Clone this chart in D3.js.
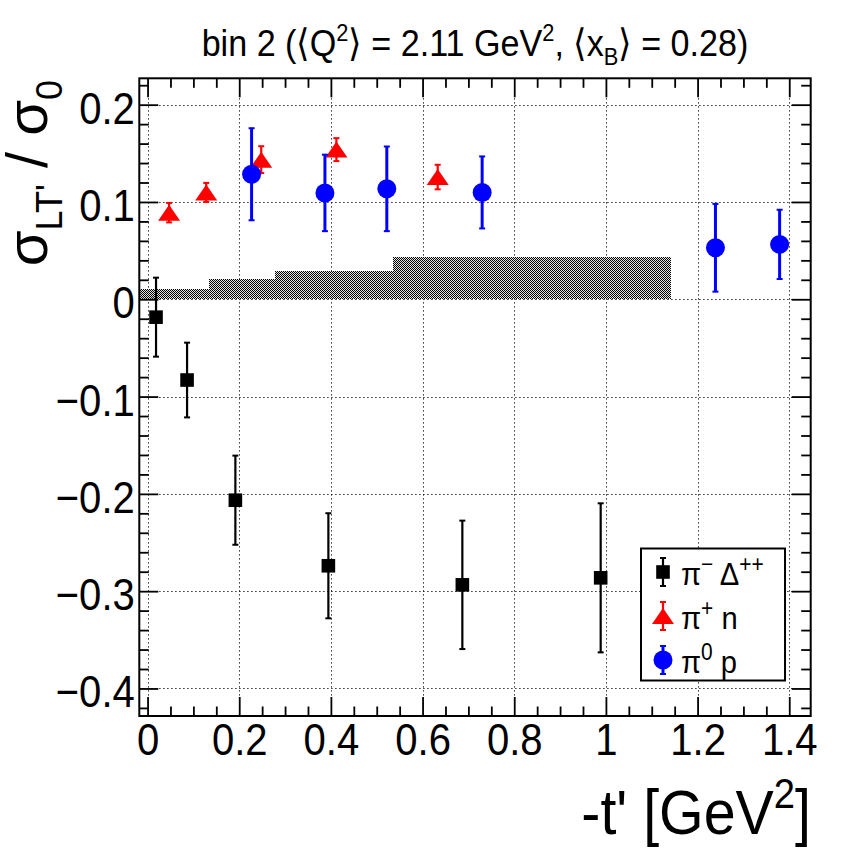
<!DOCTYPE html>
<html>
<head>
<meta charset="utf-8">
<script src="https://cdn.jsdelivr.net/npm/d3@7/dist/d3.min.js"></script>
<style>
  body { margin: 0; background: #fff; }
  text { font-family: "Liberation Sans", Arial, Helvetica, sans-serif; fill: #000; }
</style>
</head>
<body>
<svg id="chart" width="846" height="851"></svg>
<script>
// pi- Delta++ (black squares)
var piMinusT = [0.0185, 0.0862, 0.1916, 0.3945, 0.6868, 0.9886]
var piMinusA = [-0.0184, -0.083, -0.2065, -0.2739, -0.2935, -0.2863]
var piMinusErr = [0.0406, 0.0384, 0.0458, 0.054, 0.066, 0.0766]

// pi+ n (red triangles)
var piPlusT = [0.047, 0.128, 0.248, 0.412, 0.633]
var piPlusA = [0.089, 0.1098, 0.1435, 0.1538, 0.1256]
var piPlusErr = [0.010, 0.0098, 0.0138, 0.0118, 0.0126]

// pi0 p (blue circles)
var piZeroT = [0.227, 0.387, 0.522, 0.730, 1.239, 1.379]
var piZeroA = [0.1285, 0.1093, 0.1135, 0.1098, 0.0529, 0.0564]
var piZeroErr = [0.0473, 0.0393, 0.0435, 0.037, 0.0451, 0.0356]

// systematic band (histogram)
var bandEdges = [-0.018, 0.133, 0.278, 0.536, 1.141]
var bandValues = [0.0103, 0.0206, 0.0291, 0.0438]

var xTickValues = [0, 0.2, 0.4, 0.6, 0.8, 1.0, 1.2, 1.4]
var xTickLabels = ['0', '0.2', '0.4', '0.6', '0.8', '1', '1.2', '1.4']
var yTickValues = [-0.4, -0.3, -0.2, -0.1, 0, 0.1, 0.2]
var yTickLabels = ['\u22120.4', '\u22120.3', '\u22120.2', '\u22120.1', '0', '0.1', '0.2']

var legendLabels = [
  { main: '\u03c0', sup: '\u2212', rest: ' \u0394', sup2: '++' },
  { main: '\u03c0', sup: '+', rest: ' n', sup2: '' },
  { main: '\u03c0', sup: '0', rest: ' p', sup2: '' }
]

var SQ = 'scale(0.91,1)' // ROOT text looks a bit narrow

var svg = d3.select('#chart')
var padL = 139.3, padR = 810.7, padT = 78.3, padB = 716

var x = d3.scaleLinear().domain([-0.018, 1.4468]).range([padL, padR])
var y = d3.scaleLinear().domain([-0.4283, 0.2271]).range([padB, padT])

// fill pattern for band
var defs = svg.append('defs')
var pat = defs.append('pattern')
  .attr('id', 'dots')
  .attr('patternUnits', 'userSpaceOnUse')
  .attr('width', 2).attr('height', 2)
pat.append('rect').attr('width', 2).attr('height', 2).attr('fill', '#e4e4e4')
pat.append('rect').attr('width', 1).attr('height', 1).attr('fill', '#000')
pat.append('rect').attr('x', 1).attr('y', 1).attr('width', 1).attr('height', 1).attr('fill', '#000')

// grid
var grid = svg.append('g')
  .attr('stroke', '#000')
  .attr('stroke-width', 1)
  .attr('stroke-dasharray', '1.2,2.8')
grid.selectAll('.gx').data(xTickValues).enter().append('line')
  .attr('x1', function (d) { return Math.round(x(d)) + 0.5 })
  .attr('x2', function (d) { return Math.round(x(d)) + 0.5 })
  .attr('y1', padT).attr('y2', padB)
grid.selectAll('.gy').data(yTickValues).enter().append('line')
  .attr('y1', function (d) { return Math.round(y(d)) + 0.5 })
  .attr('y2', function (d) { return Math.round(y(d)) + 0.5 })
  .attr('x1', padL).attr('x2', padR)

// band
function bx0(i) { return Math.round(x(Math.max(bandEdges[i], x.domain()[0]))) }
svg.append('g').attr('shape-rendering', 'crispEdges')
  .selectAll('rect').data(bandValues).enter().append('rect')
  .attr('x', function (d, i) { return bx0(i) })
  .attr('width', function (d, i) { return Math.round(x(bandEdges[i + 1])) - bx0(i) })
  .attr('y', function (d) { return Math.round(y(d)) })
  .attr('height', function (d) { return Math.round(y(0)) - Math.round(y(d)) })
  .attr('fill', 'url(#dots)')

// axes
var xMinor = d3.range(0, 1.46, 0.05).filter(function (v) {
  return v <= x.domain()[1] && Math.abs(v * 5 - Math.round(v * 5)) > 1e-6
})
var yMinor = d3.range(-0.42, 0.221, 0.02).filter(function (v) {
  return Math.abs(v * 10 - Math.round(v * 10)) > 1e-6
})

function styleAxis(g) {
  g.select('.domain').remove()
  g.selectAll('line').attr('stroke', '#000').attr('stroke-width', 1.8)
}

var xAxis = d3.axisBottom(x).tickValues(xTickValues)
  .tickFormat(function (d, i) { return xTickLabels[i] })
  .tickSizeInner(-19).tickSizeOuter(0).tickPadding(8)
var gx = svg.append('g').attr('transform', 'translate(0,' + padB + ')').call(xAxis)
gx.call(styleAxis)
gx.selectAll('text').attr('font-size', 44).attr('font-family', null).attr('transform', SQ)

svg.append('g').attr('transform', 'translate(0,' + padB + ')')
  .call(d3.axisBottom(x).tickValues(xMinor).tickFormat('').tickSizeInner(-9.5).tickSizeOuter(0))
  .call(styleAxis)
svg.append('g').attr('transform', 'translate(0,' + padT + ')')
  .call(d3.axisTop(x).tickValues(xTickValues).tickFormat('').tickSizeInner(-19).tickSizeOuter(0))
  .call(styleAxis)
svg.append('g').attr('transform', 'translate(0,' + padT + ')')
  .call(d3.axisTop(x).tickValues(xMinor).tickFormat('').tickSizeInner(-9.5).tickSizeOuter(0))
  .call(styleAxis)

var yAxis = d3.axisLeft(y).tickValues(yTickValues)
  .tickFormat(function (d, i) { return yTickLabels[i] })
  .tickSizeInner(-19).tickSizeOuter(0).tickPadding(5)
var gy = svg.append('g').attr('transform', 'translate(' + padL + ',0)').call(yAxis)
gy.call(styleAxis)
gy.selectAll('text').attr('font-size', 44).attr('font-family', null)
  .attr('dy', '0.42em').attr('transform', SQ)

svg.append('g').attr('transform', 'translate(' + padL + ',0)')
  .call(d3.axisLeft(y).tickValues(yMinor).tickFormat('').tickSizeInner(-9.5).tickSizeOuter(0))
  .call(styleAxis)
svg.append('g').attr('transform', 'translate(' + padR + ',0)')
  .call(d3.axisRight(y).tickValues(yTickValues).tickFormat('').tickSizeInner(-19).tickSizeOuter(0))
  .call(styleAxis)
svg.append('g').attr('transform', 'translate(' + padR + ',0)')
  .call(d3.axisRight(y).tickValues(yMinor).tickFormat('').tickSizeInner(-9.5).tickSizeOuter(0))
  .call(styleAxis)

// frame
svg.append('rect')
  .attr('x', padL).attr('y', padT)
  .attr('width', padR - padL).attr('height', padB - padT)
  .attr('fill', 'none').attr('stroke', '#000').attr('stroke-width', 2)

// markers + error bars
function errorBars(g, px, py, color, w) {
  g.append('line').attr('x1', px).attr('x2', px).attr('y1', py[0]).attr('y2', py[1])
    .attr('stroke', color).attr('stroke-width', w)
  py.forEach(function (yy) {
    g.append('line').attr('x1', px - 3).attr('x2', px + 3).attr('y1', yy).attr('y2', yy)
      .attr('stroke', color).attr('stroke-width', 2)
  })
}

function drawSquare(g, px, py) {
  g.append('rect').attr('x', px - 6.8).attr('y', py - 6.8).attr('width', 13.6).attr('height', 13.6).attr('fill', '#000')
}
function drawTriangle(g, px, py) {
  g.append('path')
    .attr('d', 'M' + (px - 11) + ',' + (py + 8) + 'L' + (px + 11) + ',' + (py + 8) + 'L' + px + ',' + (py - 8) + 'Z')
    .attr('fill', '#ff0000')
}
function drawCircle(g, px, py) {
  g.append('ellipse').attr('cx', px).attr('cy', py).attr('rx', 9.5).attr('ry', 9.5).attr('fill', '#0000ff')
}

var series = [
  { t: piMinusT, a: piMinusA, e: piMinusErr, color: '#000', w: 2.2, draw: drawSquare },
  { t: piPlusT, a: piPlusA, e: piPlusErr, color: '#ff0000', w: 2.2, draw: drawTriangle },
  { t: piZeroT, a: piZeroA, e: piZeroErr, color: '#0000ff', w: 3, draw: drawCircle }
]

var marks = svg.append('g')
series.forEach(function (s) {
  for (var i = 0; i < s.t.length; i++) {
    var px = x(s.t[i])
    errorBars(marks, px, [y(s.a[i] + s.e[i]), y(s.a[i] - s.e[i])], s.color, s.w)
    s.draw(marks, px, y(s.a[i]))
  }
})

// legend
var leg = svg.append('g')
leg.append('rect').attr('x', 641).attr('y', 548.5).attr('width', 144).attr('height', 132)
  .attr('fill', '#fff').attr('stroke', '#000').attr('stroke-width', 2)
var legY = [572, 616, 660]
series.forEach(function (s, i) {
  errorBars(leg, 663, [legY[i] - 14, legY[i] + 14], s.color, s.w)
  s.draw(leg, 663, legY[i])
  var t = leg.append('text').attr('font-size', 32)
    .attr('transform', 'translate(681,' + (legY[i] + 13) + ') ' + SQ)
  var lab = legendLabels[i]
  t.append('tspan').text(lab.main)
  t.append('tspan').attr('font-size', 23).attr('dy', -13).text(lab.sup)
  t.append('tspan').attr('dy', 13).text(lab.rest)
  if (lab.sup2) t.append('tspan').attr('font-size', 23).attr('dy', -13).text(lab.sup2)
})

// title
var title = svg.append('text').attr('font-size', 37.5).attr('text-anchor', 'middle')
  .attr('transform', 'translate(475,56) ' + SQ)
title.append('tspan').text('bin 2 (\u27e8Q')
title.append('tspan').attr('font-size', 24).attr('dy', -15).text('2')
title.append('tspan').attr('dy', 15).text('\u27e9 = 2.11 GeV')
title.append('tspan').attr('font-size', 24).attr('dy', -15).text('2')
title.append('tspan').attr('dy', 15).text(', \u27e8x')
title.append('tspan').attr('font-size', 24).attr('dy', 9).text('B')
title.append('tspan').attr('dy', -9).text('\u27e9 = 0.28)')

// x axis title
var xt = svg.append('text').attr('font-size', 63).attr('text-anchor', 'end')
  .attr('transform', 'translate(811,834) ' + SQ)
xt.append('tspan').text("-t' [GeV")
xt.append('tspan').attr('font-size', 42).attr('dy', -26).text('2')
xt.append('tspan').attr('dy', 26).text(']')

// y axis title
var yt = svg.append('text').attr('font-size', 58).attr('text-anchor', 'end')
  .attr('transform', 'translate(47,80) rotate(-90)')
yt.append('tspan').text('\u03c3')
yt.append('tspan').attr('font-size', 36).attr('dy', 15).text("LT'")
yt.append('tspan').attr('dy', -15).text(' / \u03c3')
yt.append('tspan').attr('font-size', 36).attr('dy', 15).text('0')
</script>
</body>
</html>
